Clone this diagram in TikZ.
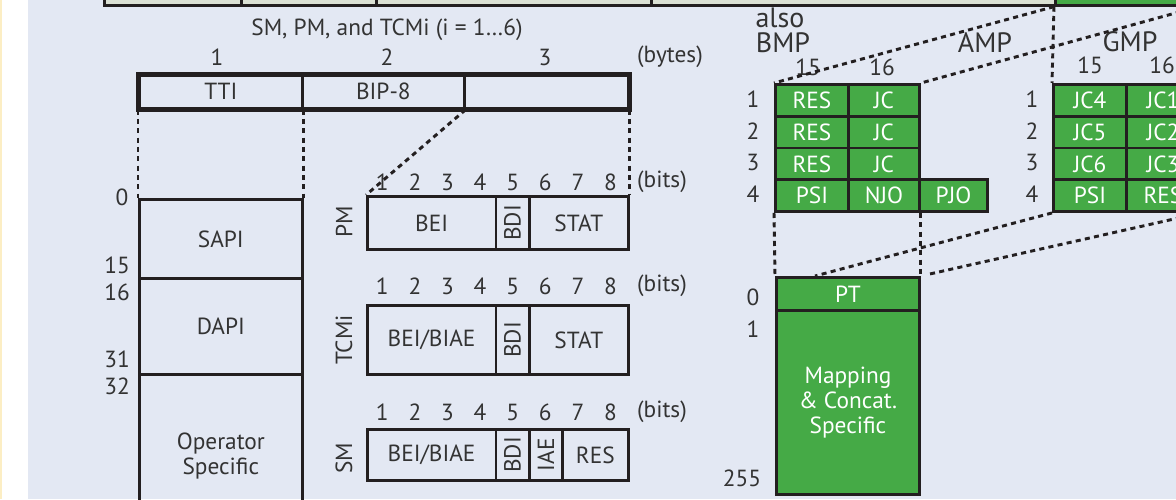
\documentclass[tikz,border=0pt]{standalone}
\usepackage{fontspec}
\setmainfont{PT Sans}

\definecolor{bgc}{RGB}{227,232,243}
\definecolor{inkc}{RGB}{35,31,32}
\definecolor{txtc}{RGB}{51,51,51}
\definecolor{grnc}{RGB}{69,170,70}
\definecolor{topc}{RGB}{219,225,212}
\definecolor{yelc}{RGB}{252,238,196}

\tikzset{
  wd/.style={minimum width=#1*0.75pt},
  ht/.style={minimum height=#1*0.75pt},
  fld/.style={draw=inkc, line width=2pt, inner sep=0pt, anchor=north west, text=txtc, font=\fontsize{17.5}{18.5}\selectfont, align=center},
  gcell/.style={fld, fill=grnc, text=white, line width=2.2pt},
  lbl/.style={inner sep=0pt, text=txtc, font=\fontsize{17.5}{18.5}\selectfont},
  hdr/.style={lbl, font=\fontsize{21}{22}\selectfont},
  dots/.style={draw=inkc, line width=2.2pt, dash pattern=on 3.8pt off 3.2pt},
}

\begin{document}
\begin{tikzpicture}[x=0.75pt,y=0.75pt,yscale=-1,xscale=1]
\clip (0,0) rectangle (1176,499);
%Background
\fill[bgc] (0,0) rectangle (1176,499);
\fill[white] (0,0) rectangle (28,499);
\draw[yelc, line width=1.2pt] (1,0) -- (1,499);

%Shape: Rectangle (top strip)
\node[fld, fill=topc, wd=137, ht=30] (top1) at (103,-26) {};
\node[fld, fill=topc, wd=135, ht=30] (top2) at (240,-26) {};
\node[fld, fill=topc, wd=275, ht=30] (top3) at (375,-26) {};
\node[fld, fill=topc, wd=404, ht=30] (top4) at (650,-26) {};
\node[fld, fill=grnc, wd=142, ht=30] (topg) at (1054,-26) {};

% Text Node
\node[lbl] (title) at (387,30) {SM, PM, and TCMi (i = 1\dots6)};
\node[lbl] (byte1) at (217,57) {1};
\node[lbl] (byte2) at (387,57) {2};
\node[lbl] (byte3) at (545,57) {3};
\node[lbl] (bytes) at (670,57) {(bytes)};

%Shape: Rectangle (bytes)
\node[fld, wd=163, ht=33] (tti) at (138,74) {TTI};
\node[fld, wd=162, ht=33] (bip) at (301,74) {BIP-8};
\node[fld, wd=164, ht=33] (b3) at (463,74) {};
\draw[inkc, line width=2.8pt] (tti.north west) rectangle (b3.south east);

%Shape: Rectangle (TTI)
\node[fld, wd=163, ht=79] (sapi) at (138,198) {SAPI};
\node[fld, wd=163, ht=96] (dapi) at (138,277) {DAPI};
\node[fld, wd=163, ht=164] (oper) at (138,373) {Operator\\Specific};
\node[lbl] (t0) at (122,197) {0};
\node[lbl] (t15) at (117,265) {15};
\node[lbl] (t16) at (117,292) {16};
\node[lbl] (t31) at (117,359) {31};
\node[lbl] (t32) at (117,386) {32};

%Shape: Rectangle (PM)
\node[fld, wd=128.5, ht=53] (pmbei) at (366,195) {BEI};
\node[fld, wd=33.5, ht=53] (pmbdi) at (494.5,195) {};
\node[fld, wd=99, ht=53] (pmstat) at (528,195) {STAT};
\node[lbl, rotate=90] (pmbdit) at (pmbdi) {BDI};
\node[lbl, rotate=90] (pm) at (344,222) {PM};
\foreach \b in {1,...,8} {\node[lbl] (pmn\b) at ({366+(\b-0.5)*32.6},182) {\b};}
\node[lbl] (pmbits) at (662,182) {(bits)};

%Shape: Rectangle (TCMi)
\node[fld, wd=128.5, ht=69] (tcbei) at (366,304) {BEI/BIAE};
\node[fld, wd=33.5, ht=69] (tcbdi) at (494.5,304) {};
\node[fld, wd=99, ht=69] (tcstat) at (528,304) {STAT};
\node[lbl, rotate=90] (tcbdit) at (tcbdi) {BDI};
\node[lbl, rotate=90] (tcm) at (344,340) {TCMi};
\foreach \b in {1,...,8} {\node[lbl] (tcn\b) at ({366+(\b-0.5)*32.6},286) {\b};}
\node[lbl] (tcbits) at (662,286) {(bits)};

%Shape: Rectangle (SM)
\node[fld, wd=128.5, ht=51] (smbei) at (366,428) {BEI/BIAE};
\node[fld, wd=33.5, ht=51] (smbdi) at (494.5,428) {};
\node[fld, wd=33, ht=51] (smiae) at (528,428) {};
\node[fld, wd=66, ht=51] (smres) at (561,428) {RES};
\node[lbl, rotate=90] (smbdit) at (smbdi) {BDI};
\node[lbl, rotate=90] (smiaet) at (smiae) {IAE};
\node[lbl, rotate=90] (sm) at (344,458) {SM};
\foreach \b in {1,...,8} {\node[lbl] (smn\b) at ({366+(\b-0.5)*32.6},412) {\b};}
\node[lbl] (smbits) at (662,412) {(bits)};

% Text Node
\node[hdr] (also) at (780,18) {also};
\node[hdr] (bmp) at (783,43) {BMP};
\node[hdr] (amp) at (985,43) {AMP};
\node[hdr] (gmp) at (1130,42) {GMP};
\node[lbl] (bmpc1) at (808,67) {15};
\node[lbl] (bmpc2) at (882,67) {16};
\node[lbl] (gmpc1) at (1090,65) {15};
\node[lbl] (gmpc2) at (1162,65) {16};

%Shape: Rectangle (BMP / AMP)
\foreach \r/\a/\c in {1/RES/JC,2/RES/JC,3/RES/JC,4/PSI/NJO} {
  \node[gcell, wd=73, ht=31.75] (bmp\r1) at (774,{83+(\r-1)*31.75}) {\a};
  \node[gcell, wd=71, ht=31.75] (bmp\r2) at (847,{83+(\r-1)*31.75}) {\c};
  \node[lbl] (bmpr\r) at (753,{99+(\r-1)*31.75}) {\r};
}
\node[gcell, wd=68, ht=31.75] (pjo) at (918,178.25) {PJO};

%Shape: Rectangle (GMP)
\foreach \r/\a/\c in {1/JC4/JC1,2/JC5/JC2,3/JC6/JC3,4/PSI/RES} {
  \node[gcell, wd=73, ht=31.75] (gmp\r1) at (1052,{83+(\r-1)*31.75}) {\a};
  \node[gcell, wd=73, ht=31.75] (gmp\r2) at (1125,{83+(\r-1)*31.75}) {\c};
  \node[lbl] (gmpr\r) at (1032,{99+(\r-1)*31.75}) {\r};
}

%Shape: Rectangle (PT)
\node[gcell, wd=143, ht=33] (pt) at (775,276) {PT};
\node[gcell, wd=143, ht=184] (map) at (775,309) {Mapping\\\& Concat.\\Specific};
\node[lbl] (p0) at (753,297) {0};
\node[lbl] (p1) at (753,329) {1};
\node[lbl] (p255) at (742,478) {255};
\coordinate (ptq) at (815,276);

%Straight Lines (dotted)
\draw[dots] (tti.south west) -- (sapi.north west);
\draw[dots] (tti.south east) -- (sapi.north east);
\draw[dots] (bip.south east) -- (pmbei.north west);
\draw[dots] (b3.south east) -- (pmstat.north east);
\draw[dots] (topg.south west) -- (gmp11.north west);
\draw[dots] (topg.south west) -- (bmp11.north west);
\draw[dots] (topg.south east) -- (bmp12.north east);
\draw[dots] (bmp41.south west) -- (pt.north west);
\draw[dots] (bmp42.south east) -- (pt.north east);
\draw[dots] (gmp41.south west) -- (ptq);
\draw[dots, shorten <=7pt] (pt.north east) -- (gmp42.south east);

\end{tikzpicture}
\end{document}
